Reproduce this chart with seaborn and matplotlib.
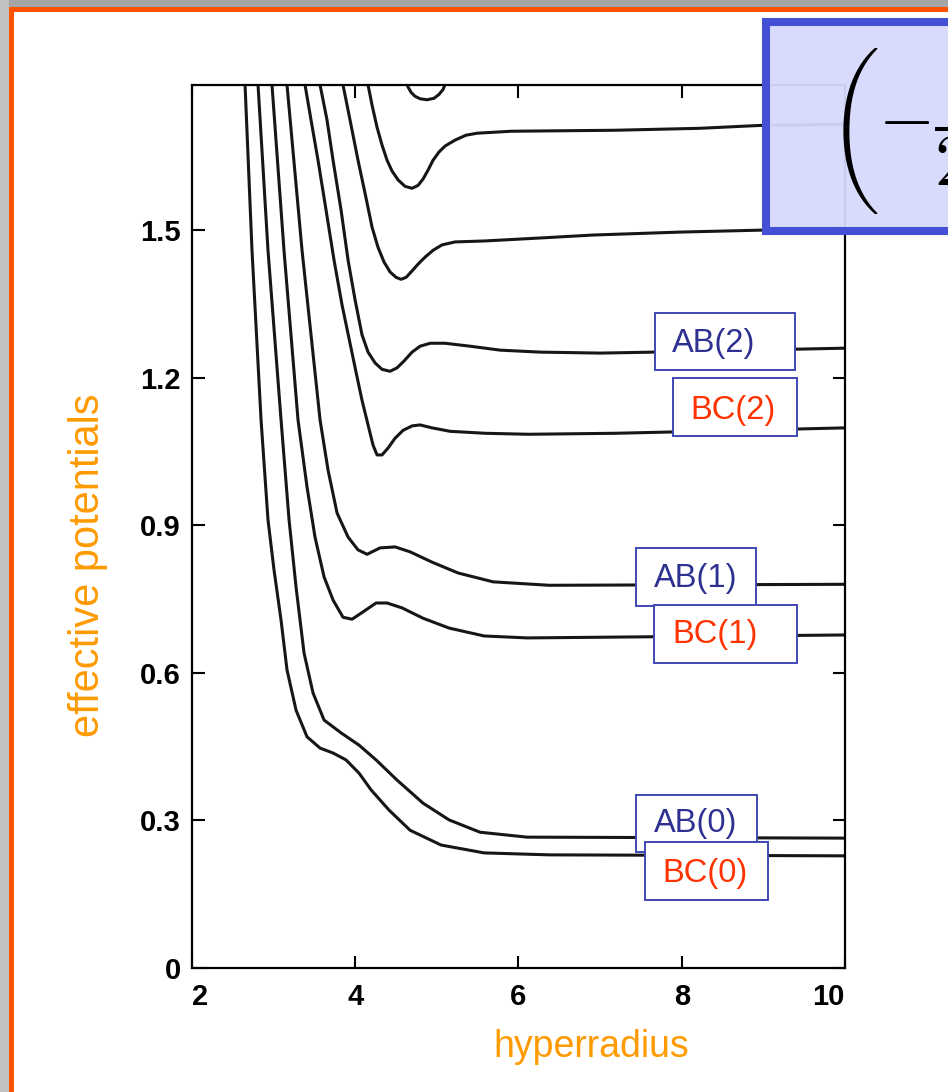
import numpy as np
import pandas as pd
import matplotlib
matplotlib.use("Agg")
import matplotlib.pyplot as plt
from matplotlib.patches import Rectangle
import seaborn as sns

# ---- effective potential curves (hyperradius, potential) ----
bc0_x = [2.650, 2.735, 2.846, 2.931, 3.005, 3.091, 3.164, 3.275, 3.409, 3.569, 3.728, 3.887,
         4.047, 4.194, 4.414, 4.672, 5.051, 5.578, 6.375, 10.0]
bc0_y = [1.795, 1.459, 1.114, 0.911, 0.809, 0.707, 0.606, 0.524, 0.470, 0.447, 0.437, 0.423,
         0.396, 0.362, 0.321, 0.280, 0.250, 0.234, 0.230, 0.228]

ab0_x = [2.809, 2.931, 3.091, 3.189, 3.275, 3.373, 3.483, 3.618, 3.826, 4.047, 4.255, 4.512,
         4.831, 5.150, 5.529, 6.105, 10.0]
ab0_y = [1.795, 1.459, 1.114, 0.911, 0.774, 0.640, 0.559, 0.504, 0.478, 0.453, 0.423, 0.382,
         0.335, 0.301, 0.276, 0.266, 0.264]

bc1_x = [2.980, 3.127, 3.299, 3.409, 3.507, 3.618, 3.728, 3.850, 3.961, 4.096, 4.255, 4.390,
         4.574, 4.831, 5.150, 5.578, 6.105, 10.0]
bc1_y = [1.795, 1.459, 1.114, 0.978, 0.876, 0.795, 0.748, 0.713, 0.709, 0.724, 0.742, 0.742,
         0.732, 0.711, 0.691, 0.675, 0.671, 0.677]

ab1_x = [3.164, 3.348, 3.569, 3.667, 3.777, 3.912, 4.034, 4.145, 4.304, 4.488, 4.672, 4.941,
         5.260, 5.689, 6.375, 10.0]
ab1_y = [1.795, 1.459, 1.114, 1.012, 0.925, 0.876, 0.850, 0.841, 0.854, 0.856, 0.846, 0.825,
         0.803, 0.785, 0.778, 0.780]

bc2_x = [3.385, 3.458, 3.544, 3.642, 3.740, 3.838, 3.936, 4.010, 4.083, 4.157, 4.218, 4.267,
         4.328, 4.402, 4.488, 4.586, 4.696, 4.794, 4.941, 5.162, 5.591, 6.118, 7.184, 8.225, 10.0]
bc2_y = [1.795, 1.724, 1.642, 1.541, 1.439, 1.348, 1.270, 1.211, 1.154, 1.104, 1.063, 1.043,
         1.043, 1.057, 1.077, 1.093, 1.102, 1.104, 1.098, 1.091, 1.087, 1.085, 1.087, 1.091, 1.098]

ab2_x = [3.569, 3.654, 3.728, 3.826, 3.912, 3.998, 4.083, 4.157, 4.243, 4.328, 4.426, 4.512,
         4.598, 4.696, 4.794, 4.917, 5.101, 5.407, 5.775, 6.265, 7.000, 7.662, 8.838, 10.0]
ab2_y = [1.795, 1.724, 1.642, 1.541, 1.439, 1.358, 1.287, 1.252, 1.230, 1.217, 1.213, 1.220,
         1.234, 1.252, 1.264, 1.270, 1.270, 1.264, 1.256, 1.252, 1.250, 1.252, 1.256, 1.260]

c7_x = [3.850, 3.912, 3.961, 4.034, 4.120, 4.206, 4.279, 4.353, 4.426, 4.500, 4.561, 4.623,
        4.696, 4.770, 4.855, 4.953, 5.064, 5.223, 5.591, 6.265, 6.914, 7.980, 8.985, 10.0]
c7_y = [1.795, 1.744, 1.703, 1.642, 1.575, 1.506, 1.465, 1.435, 1.415, 1.404, 1.400, 1.404,
        1.417, 1.431, 1.445, 1.459, 1.470, 1.476, 1.478, 1.484, 1.490, 1.496, 1.500, 1.504]

c8_x = [4.157, 4.206, 4.267, 4.328, 4.390, 4.451, 4.525, 4.610, 4.696, 4.770, 4.831, 4.892,
        4.953, 5.027, 5.101, 5.223, 5.358, 5.493, 5.909, 7.184, 8.225, 8.985, 10.0]
c8_y = [1.795, 1.754, 1.709, 1.673, 1.642, 1.620, 1.602, 1.589, 1.585, 1.591, 1.604, 1.622,
        1.642, 1.659, 1.671, 1.683, 1.693, 1.697, 1.701, 1.703, 1.707, 1.713, 1.715]

c9_x = [4.610, 4.647, 4.684, 4.733, 4.794, 4.880, 4.966, 5.027, 5.076, 5.113]
c9_y = [1.805, 1.791, 1.780, 1.772, 1.767, 1.765, 1.768, 1.776, 1.786, 1.801]

curves = {
    "BC(0)": (bc0_x, bc0_y), "AB(0)": (ab0_x, ab0_y),
    "BC(1)": (bc1_x, bc1_y), "AB(1)": (ab1_x, ab1_y),
    "BC(2)": (bc2_x, bc2_y), "AB(2)": (ab2_x, ab2_y),
    "c7": (c7_x, c7_y), "c8": (c8_x, c8_y), "c9": (c9_x, c9_y),
}

x_ticks = [2, 4, 6, 8, 10]
y_ticks = [0, 0.3, 0.6, 0.9, 1.2, 1.5]
y_tick_labels = ["0", "0.3", "0.6", "0.9", "1.2", "1.5"]

channel_labels = ["AB(2)", "BC(2)", "AB(1)", "BC(1)", "AB(0)", "BC(0)"]

# ---- figure ----
sns.set_theme(style="ticks")
plt.rcParams["font.family"] = ["Liberation Sans", "DejaVu Sans"]
plt.rcParams["mathtext.fontset"] = "cm"

W, H = 948, 1092
fig = plt.figure(figsize=(W / 100, H / 100), dpi=100, facecolor="white")
ax = fig.add_axes([192 / W, (H - 968) / H, 653 / W, 883 / H])

rows = []
for name, (xs, ys) in curves.items():
    for xv, yv in zip(xs, ys):
        rows.append({"channel": name, "hyperradius": xv, "potential": yv})
df = pd.DataFrame(rows)

sns.lineplot(data=df, x="hyperradius", y="potential", units="channel",
             estimator=None, sort=False, color="#161616", linewidth=2.2,
             legend=False, ax=ax)
for ln in ax.lines:
    ln.set_solid_joinstyle("round")
    ln.set_solid_capstyle("round")

ax.set_xlim(2, 10)
ax.set_ylim(0, 1.795)
ax.set_xticks(x_ticks)
ax.set_xticklabels([str(t) for t in x_ticks])
ax.set_yticks(y_ticks)
ax.set_yticklabels(y_tick_labels)
for s in ax.spines.values():
    s.set_color("black")
    s.set_linewidth(1.6)
ax.tick_params(direction="in", length=9, width=1.5, top=True, right=True,
               labelsize=21, colors="black")
ax.tick_params(axis="x", pad=11)
ax.tick_params(axis="y", pad=8)
for lbl in ax.get_xticklabels() + ax.get_yticklabels():
    lbl.set_fontweight("bold")
xt = ax.get_xticklabels()
xt[0].set_horizontalalignment("left")
xt[-1].set_horizontalalignment("right")

orange = "#FF9A00"
ax.set_xlabel("hyperradius", fontsize=27, color=orange, va="center")
ax.set_ylabel("effective potentials", fontsize=30, color=orange, va="center")
ax.xaxis.set_label_coords((591 - 192) / 653, (968 - 1047) / 883)
ax.yaxis.set_label_coords((88 - 192) / 653, (968 - 565) / 883)

# channel label boxes: (x0, x1, y0, y1, text x, text y)
box_layout = [
    (7.67, 9.39, 1.215, 1.331, 8.39, 1.270),
    (7.895, 9.414, 1.081, 1.199, 8.63, 1.134),
    (7.441, 8.912, 0.736, 0.854, 8.176, 0.792),
    (7.662, 9.414, 0.620, 0.738, 8.41, 0.677),
    (7.441, 8.924, 0.236, 0.352, 8.176, 0.294),
    (7.551, 9.059, 0.138, 0.256, 8.287, 0.193),
]
for i, (name, (x0, x1, y0, y1, tx, ty)) in enumerate(zip(channel_labels, box_layout)):
    z = 4 + i
    ax.add_patch(Rectangle((x0, y0), x1 - x0, y1 - y0, facecolor="white",
                           edgecolor="#4048B4", linewidth=1.4, zorder=z))
    col = "#2E3192" if name.startswith("AB") else "#FF3300"
    ax.text(tx, ty, name, color=col, fontsize=23.5, ha="center", va="center",
            zorder=z + 0.5)

# slide frame
fig.add_artist(Rectangle((0, 1 - 7 / H), 1, 7 / H, transform=fig.transFigure,
                         facecolor="#A6A6A6", lw=0, zorder=1))
fig.add_artist(Rectangle((0, 0), 9 / W, 1, transform=fig.transFigure,
                         facecolor="#C2C2C2", lw=0, zorder=1))
fig.add_artist(Rectangle((9 / W, 1 - 11.5 / H), 1, 4.5 / H, transform=fig.transFigure,
                         facecolor="#FF5200", lw=0, zorder=1.1))
fig.add_artist(Rectangle((9 / W, 0), 4.5 / W, 1 - 7 / H, transform=fig.transFigure,
                         facecolor="#FF5200", lw=0, zorder=1.1))

# equation panel (hyperradial Hamiltonian)
fig.add_artist(Rectangle((766 / W, 1 - 231 / H), 0.3, 209 / H, transform=fig.transFigure,
                         facecolor=(0.845, 0.850, 0.99, 0.95), edgecolor="#4350D6",
                         linewidth=5.8, zorder=5))
fig.text(828 / W, 1 - 131 / H,
         r"$\left(-\dfrac{1}{2\mu}\dfrac{\partial^{2}}{\partial\rho^{2}}"
         r"+\dfrac{\Lambda^{2}}{2\mu\rho^{2}}+V\right)\psi=E\psi$",
         fontsize=52, ha="left", va="center", color="black", zorder=6)

fig.savefig("out.png", dpi=100, facecolor="white")
